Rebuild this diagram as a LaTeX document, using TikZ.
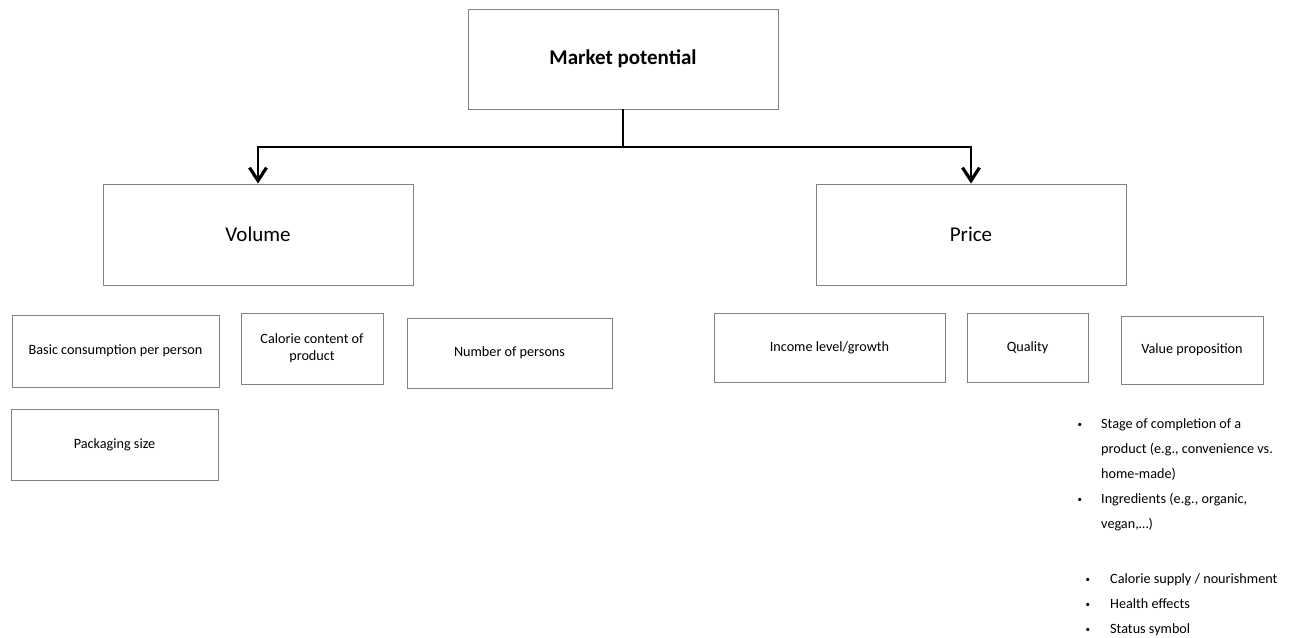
\documentclass[tikz,border=0pt]{standalone}
\usepackage{fontspec}
\setmainfont{Carlito}
\usetikzlibrary{arrows.meta}
\newcommand{\smallbul}{\raisebox{1pt}{\fontsize{9}{9}\selectfont\textbullet}}
\tikzset{
  box/.style={draw=black!50, line width=0.9pt, fill=white, inner sep=0pt, align=center, text=black},
  bigtext/.style={font=\fontsize{21}{25}\selectfont},
  smalltext/.style={font=\fontsize{14.2}{17}\selectfont},
  listtext/.style={font=\fontsize{14.2}{25}\selectfont, inner sep=0pt, anchor=north west, text=black},
  conn/.style={draw=black, line width=2pt},
  arr/.style={conn, -{Straight Barb[length=13pt,width=17pt,line width=3.2pt]}}
}
\begin{document}
\begin{tikzpicture}[x=1pt,y=-1pt]
\useasboundingbox (0,0) rectangle (1295,637);
% top
\node[box, bigtext, minimum width=310pt, minimum height=100pt] (mp) at (623,59) {\textbf{Market potential}};
\node[box, bigtext, minimum width=310pt, minimum height=101pt] (vol) at (258,234.5) {Volume};
\node[box, bigtext, minimum width=310pt, minimum height=101pt] (price) at (971,234.5) {Price};
\coordinate (junc) at (623,147);
\coordinate (jl) at (258,147);
\coordinate (jr) at (971,147);
\draw[conn] (mp.south) -- (junc);
\draw[arr] (junc) -- (jl) -- (vol.north);
\draw[arr] (junc) -- (jr) -- (price.north);
% volume factors
\node[box, smalltext, minimum width=207pt, minimum height=72pt] (basic) at (115.5,351) {Basic consumption per person};
\node[box, smalltext, minimum width=142pt, minimum height=71pt] (cal) at (312,348.5) {Calorie content of\\product};
\node[box, smalltext, minimum width=205pt, minimum height=70pt] (num) at (509.5,353) {Number of persons};
\node[box, smalltext, minimum width=207pt, minimum height=71pt] (pack) at (114.5,444.5) {Packaging size};
% price factors
\node[box, smalltext, minimum width=231pt, minimum height=69pt] (inc) at (829.5,347.5) {Income level/growth};
\node[box, smalltext, minimum width=121pt, minimum height=69pt] (qual) at (1027.5,347.5) {Quality};
\node[box, smalltext, minimum width=142pt, minimum height=68pt] (val) at (1192,350) {Value proposition};
% lists
\node[listtext] (list1) at (1077.5,410.5) {\begin{tabular}{@{}p{23.5pt}@{}l@{}}
\smallbul & Stage of completion of a\\
 & product (e.g., convenience vs.\\
 & home-made)\\
\smallbul & Ingredients (e.g., organic,\\
 & vegan,…)
\end{tabular}};
\node[listtext] (list2) at (1085.5,565.5) {\begin{tabular}{@{}p{24.5pt}@{}l@{}}
\smallbul & Calorie supply / nourishment\\
\smallbul & Health effects\\
\smallbul & Status symbol
\end{tabular}};
\end{tikzpicture}
\end{document}
